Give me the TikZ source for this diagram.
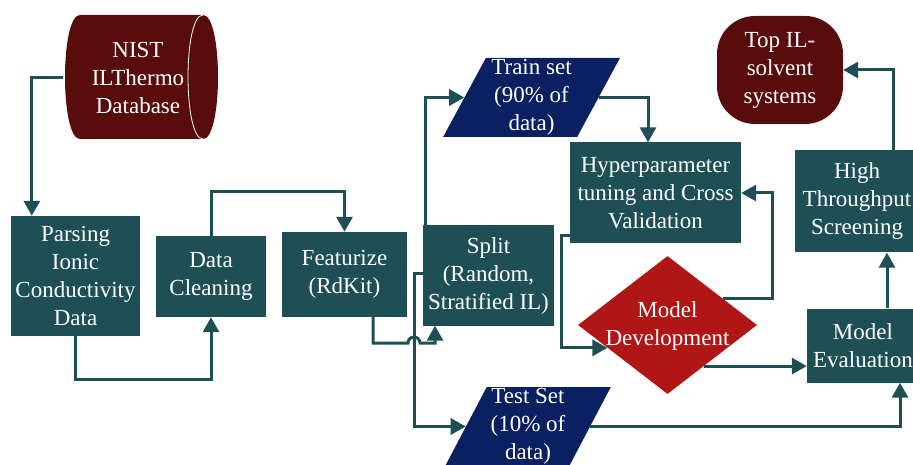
\documentclass[tikz,border=0pt]{standalone}
\usepackage{fontspec}
\setmainfont{Liberation Serif}
\usetikzlibrary{arrows.meta,shapes.geometric,calc}
\definecolor{teal1}{HTML}{1E4F55}
\definecolor{wine}{HTML}{580C0B}
\definecolor{navy1}{HTML}{0A2060}
\definecolor{red1}{HTML}{B01616}
\begin{document}
\begin{tikzpicture}[x=1pt,y=-1pt,
  txt/.style={text=white,font=\fontsize{23}{28}\selectfont,align=center,inner sep=0pt},
  box/.style={txt,rectangle,fill=teal1,draw=none},
  para/.style={txt,trapezium,trapezium left angle=63.7,trapezium right angle=116.3,trapezium stretches=true,fill=navy1},
  conn/.style={draw=teal1,line width=3pt,-{Triangle[width=16pt,length=15pt]}}
]
\useasboundingbox (0,0) rectangle (913,465);
\clip (0,0) rectangle (913,465);

% database cylinder
\fill[wine] (80,15) -- (203,15) .. controls (223,15) and (223,139) .. (203,139) -- (80,139) .. controls (60,139) and (60,15) .. (80,15) -- cycle;
\draw[white,line width=0.8pt] (203,15) .. controls (183,15) and (183,139) .. (203,139);
\node[txt,minimum width=146pt,minimum height=124pt] (nist) at (138,78) {NIST\\ILThermo\\Database};

\node[box,minimum width=129pt,minimum height=120pt] (parse) at (75.5,276) {Parsing\\Ionic\\Conductivity\\Data};
\node[box,minimum width=110pt,minimum height=81pt] (clean) at (211,276.5) {Data\\Cleaning};
\node[box,minimum width=125pt,minimum height=85pt] (feat) at (344.5,274.5) {Featurize\\(RdKit)};
\node[box,minimum width=131pt,minimum height=100pt] (split) at (488.5,275.5) {Split\\(Random,\\Stratified IL)};
\node[para,minimum width=177pt,minimum height=79pt] (train) at (531.5,97.5) {Train set\\(90\% of\\data)};
\node[para,minimum width=166pt,minimum height=79pt] (test) at (528,426.5) {Test Set\\(10\% of\\data)};
\node[box,minimum width=171pt,minimum height=101pt] (hyper) at (655.5,193) {Hyperparameter\\tuning and Cross\\Validation};
\node[txt,fill=wine,rounded corners=38pt,minimum width=126pt,minimum height=108pt] (topil) at (780,70) {Top IL-\\solvent\\systems};
\node[box,minimum width=124pt,minimum height=102pt] (ht) at (857,201.5) {High\\Throughput\\Screening};
\node[diamond,fill=red1,minimum width=179pt,minimum height=138pt,inner sep=0pt] (dev) at (667.5,325) {};
\node[txt] (devtxt) at ([yshift=-1pt]dev.center) {Model\\Development};
\node[box,minimum width=112pt,minimum height=74pt] (eval) at (863,345.5) {Model\\Evaluation};

\coordinate (hop) at (408,343);
\coordinate (devin) at ($(dev.west)!0.33!(dev.south)$);
\coordinate (devup) at ($(dev.north)!0.62!(dev.east)$);
\coordinate (devout) at ($(dev.east)!0.594!(dev.south)$);

\draw[conn] ([xshift=-2pt]nist.west) -| ([xshift=21pt]parse.north west);
\draw[conn] (parse.south) -- ++(0,43) -| (clean.south);
\draw[conn] (clean.north) -- ++(0,-44) -| (feat.north);
\draw[conn] ([xshift=28.5pt]feat.south) |- (hop) arc[start angle=180,end angle=0,radius=6pt] -| ([xshift=-53.5pt]split.south);
\draw[conn] ([xshift=-63.5pt]split.north) |- (train.west);
\draw[conn] ([yshift=2pt]split.west) -- ++(-8,0) |- (test.west);
\draw[conn] (train.east) -| ([xshift=-7.5pt]hyper.north);
\draw[conn] ([yshift=-42.5pt]hyper.west) -- ++(-8,0) |- (devin);
\draw[conn] (devup) -| ([xshift=31pt]hyper.east) -- (hyper.east);
\draw[conn] (devout) -- (devout -| eval.west);
\draw[conn] (test.east) -| ([xshift=37pt]eval.south);
\draw[conn] ([xshift=24pt]eval.north) -- ([xshift=30pt]ht.south);
\draw[conn] ([xshift=36pt]ht.north) |- (topil.east);
\end{tikzpicture}
\end{document}
